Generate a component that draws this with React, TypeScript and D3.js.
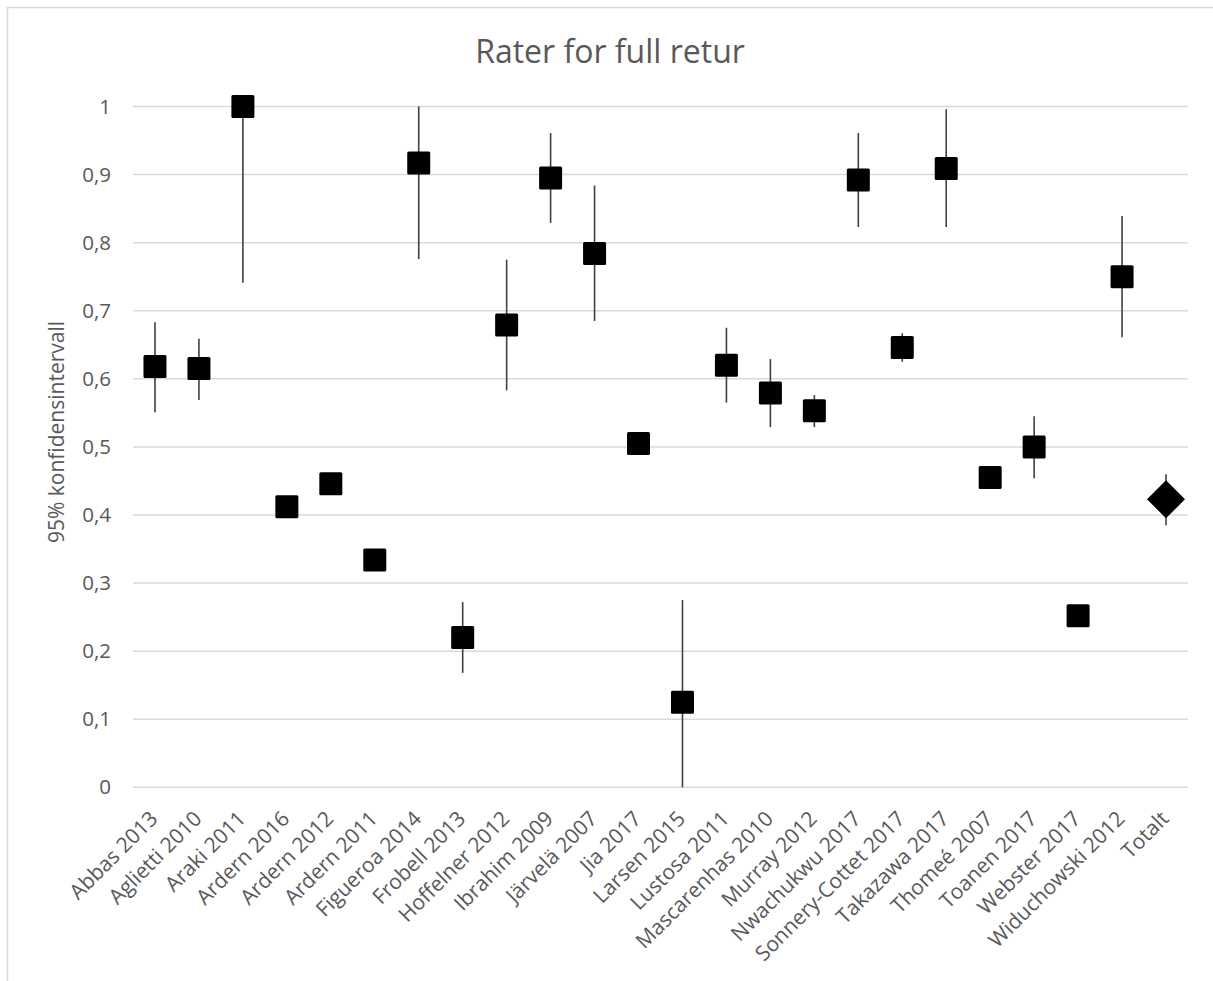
import React, { FC, useMemo } from 'react'
import * as d3 from 'd3'

const studies = [
	'Abbas 2013', 'Aglietti 2010', 'Araki 2011', 'Ardern 2016', 'Ardern 2012', 'Ardern 2011',
	'Figueroa 2014', 'Frobell 2013', 'Hoffelner 2012', 'Ibrahim 2009', 'Järvelä 2007', 'Jia 2017',
	'Larsen 2015', 'Lustosa 2011', 'Mascarenhas 2010', 'Murray 2012', 'Nwachukwu 2017',
	'Sonnery-Cottet 2017', 'Takazawa 2017', 'Thomeé 2007', 'Toanen 2017', 'Webster 2017',
	'Widuchowski 2012', 'Totalt'
]
// point estimate
const rates = [
	0.618, 0.615, 1.0, 0.412, 0.446, 0.334, 0.917, 0.22, 0.679, 0.895, 0.784, 0.505,
	0.125, 0.62, 0.579, 0.553, 0.892, 0.646, 0.909, 0.455, 0.5, 0.252, 0.75, 0.423
]
// 95% CI, null = no interval drawn
const lower = [
	0.551, 0.569, 0.741, null, null, null, 0.776, 0.168, 0.583, 0.829, 0.685, null,
	0, 0.565, 0.529, 0.529, 0.823, 0.625, 0.823, null, 0.454, null, 0.661, 0.385
]
const upper = [
	0.683, 0.659, 1.0, null, null, null, 1.0, 0.272, 0.775, 0.961, 0.884, null,
	0.275, 0.675, 0.629, 0.576, 0.961, 0.667, 0.996, null, 0.545, null, 0.839, 0.46
]
const yTicks = [0, 0.1, 0.2, 0.3, 0.4, 0.5, 0.6, 0.7, 0.8, 0.9, 1]

const W = 1213
const H = 981
const left = 133
const right = 1188
const top = 106.5
const bottom = 787.3
const font = '"Open Sans", "Noto Sans", sans-serif'

const App: FC = () => {
	const x = useMemo(() => d3.scaleBand().domain(studies).range([left, right]), [])
	const y = useMemo(() => d3.scaleLinear().domain([0, 1]).range([bottom, top]), [])
	const fmt = (v: number) => d3.format('.1~f')(v).replace('.', ',')
	const sq = 23
	const dia = 19

	return (
		<svg
			width={W}
			height={H}
			style={{ position: 'absolute', left: 0, top: 0, background: '#fff' }}
		>
			<rect x={7.5} y={7.5} width={W + 20} height={H + 20} fill="#fff" stroke="#d9d9d9" strokeWidth={1.5} />
			<text x={610} y={63} textAnchor="middle" fontFamily={font} fontSize={32} fill="#595959">
				Rater for full retur
			</text>

			{/* grid + y ticks */}
			<g>
				{yTicks.map((t) => (
					<g key={t}>
						<line x1={left} x2={right} y1={y(t)} y2={y(t)} stroke="#d9d9d9" strokeWidth={1.5} />
						<text x={111} y={y(t)} dy="0.35em" textAnchor="end" fontFamily={font} fontSize={20.5} fill="#595959">
							{fmt(t)}
						</text>
					</g>
				))}
			</g>
			<text
				transform={`translate(64, 432) rotate(-90)`}
				textAnchor="middle"
				fontFamily={font}
				fontSize={21}
				fill="#595959"
			>
				95% konfidensintervall
			</text>

			{/* x labels */}
			<g>
				{studies.map((s) => {
					const cx = (x(s) as number) + x.bandwidth() / 2
					return (
						<text
							key={s}
							transform={`translate(${cx + 4}, 820) rotate(-45)`}
							textAnchor="end"
							fontFamily={font}
							fontSize={21}
							fill="#595959"
						>
							{s}
						</text>
					)
				})}
			</g>

			{/* error bars */}
			<g>
				{studies.map((s, i) => {
					if (lower[i] === null || upper[i] === null) return null
					const cx = (x(s) as number) + x.bandwidth() / 2
					return (
						<line key={s} x1={cx} x2={cx} y1={y(lower[i] as number)} y2={y(upper[i] as number)} stroke="#404040" strokeWidth={1.6} />
					)
				})}
			</g>

			{/* markers */}
			<g>
				{studies.map((s, i) => {
					const cx = (x(s) as number) + x.bandwidth() / 2
					const cy = y(rates[i])
					if (s === 'Totalt') {
						return (
							<path
								key={s}
								d={`M${cx},${cy - dia} L${cx + dia},${cy} L${cx},${cy + dia} L${cx - dia},${cy} Z`}
								fill="#000"
							/>
						)
					}
					return <rect key={s} x={cx - sq / 2} y={cy - sq / 2} width={sq} height={sq} rx={1.5} fill="#000" />
				})}
			</g>
		</svg>
	)
}

export default App
